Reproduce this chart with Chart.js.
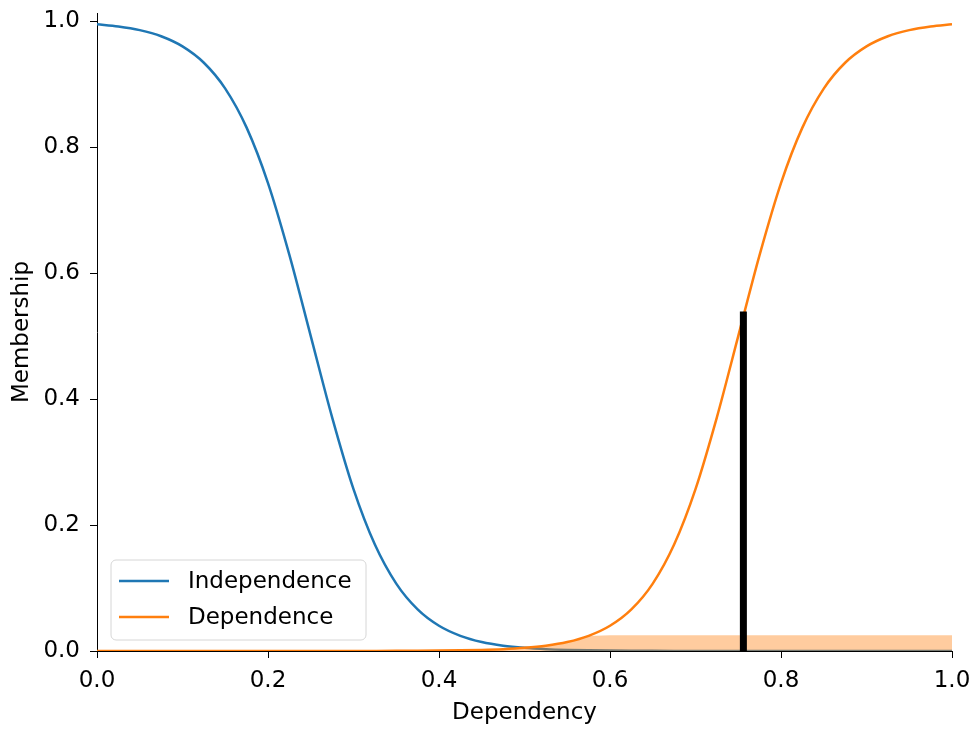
<!DOCTYPE html>
<html lang="en">
<head>
  <meta charset="UTF-8">
  <title>Dependency membership</title>
  <script src="https://cdn.jsdelivr.net/npm/chart.js"></script>
  <style>
    html, body { margin: 0; padding: 0; background: #fff; }
    #wrap { width: 973px; height: 729px; }
  </style>
</head>
<body>
  <div id="wrap"><canvas id="grafico" width="973" height="729"></canvas></div>

  <script>
    // universe of discourse
    const xs = [0, 0.025, 0.05, 0.075, 0.1, 0.125, 0.15, 0.175, 0.2, 0.225, 0.25, 0.275, 0.3, 0.325, 0.35,
      0.375, 0.4, 0.425, 0.45, 0.475, 0.5, 0.525, 0.55, 0.575, 0.6, 0.625, 0.65, 0.675, 0.7, 0.725,
      0.75, 0.775, 0.8, 0.825, 0.85, 0.875, 0.9, 0.925, 0.95, 0.975, 1.0];

    const independence = [0.995, 0.9916, 0.9858, 0.9761, 0.960, 0.934, 0.893, 0.831, 0.743, 0.629, 0.5,
      0.371, 0.257, 0.169, 0.107, 0.066, 0.040, 0.024, 0.0142, 0.0084, 0.0050, 0.0029, 0.0017, 0.0010,
      0.0006, 0.00035, 0.0002, 0.00012, 0.00007, 0.00004, 0, 0, 0, 0, 0, 0, 0, 0, 0, 0, 0];

    const dependence = [0, 0, 0, 0, 0, 0, 0, 0, 0, 0, 0, 0.00004, 0.00007, 0.00012, 0.0002, 0.00035,
      0.0006, 0.0010, 0.0017, 0.0029, 0.0050, 0.0084, 0.0142, 0.024, 0.040, 0.066, 0.107, 0.169, 0.257,
      0.371, 0.5, 0.629, 0.743, 0.831, 0.893, 0.934, 0.960, 0.9761, 0.9858, 0.9916, 0.995];

    // activation of the dependence set (clipped at 0.025)
    const activation = [0, 0, 0, 0, 0, 0, 0, 0, 0, 0, 0, 0.00004, 0.00007, 0.00012, 0.0002, 0.00035,
      0.0006, 0.0010, 0.0017, 0.0029, 0.0050, 0.0084, 0.0142, 0.024, 0.025, 0.025, 0.025, 0.025, 0.025,
      0.025, 0.025, 0.025, 0.025, 0.025, 0.025, 0.025, 0.025, 0.025, 0.025, 0.025, 0.025];

    // crisp output and its membership
    const resultX = 0.756;
    const resultY = 0.539;

    const yTicks = [0, 0.2, 0.4, 0.6, 0.8, 1.0];
    const seriesNames = ["Independence", "Dependence"];
    const FONT = "'DejaVu Sans', sans-serif";

    const pts = arr => xs.map((x, i) => ({ x: x, y: arr[i] }));

    // legend box drawn inside the plot, lower left
    const legendBox = {
      id: 'legendBox',
      afterDraw(chart) {
        const ctx = chart.ctx;
        const x0 = 111, y0 = 560, w = 255, h = 80, r = 5;
        ctx.save();
        ctx.beginPath();
        ctx.roundRect(x0, y0, w, h, r);
        ctx.fillStyle = 'rgba(255,255,255,0.8)';
        ctx.fill();
        ctx.strokeStyle = '#d6d6d6';
        ctx.lineWidth = 1;
        ctx.stroke();
        const colors = ['#1f77b4', '#ff7f0e'];
        const rows = [581, 617];
        ctx.font = "23px " + FONT;
        ctx.textBaseline = 'middle';
        ctx.textAlign = 'left';
        seriesNames.forEach((name, i) => {
          ctx.beginPath();
          ctx.moveTo(119, rows[i]);
          ctx.lineTo(169, rows[i]);
          ctx.strokeStyle = colors[i];
          ctx.lineWidth = 2.5;
          ctx.stroke();
          ctx.fillStyle = '#000';
          ctx.fillText(name, 188, rows[i] + 1);
        });
        ctx.restore();
      }
    };

    Chart.defaults.font.family = FONT;
    Chart.defaults.font.size = 23;
    Chart.defaults.color = '#000';

    new Chart(document.getElementById("grafico"), {
      type: 'line',
      data: {
        datasets: [
          {
            label: seriesNames[0],
            data: pts(independence),
            borderColor: '#1f77b4',
            borderWidth: 2.5,
            pointRadius: 0,
            cubicInterpolationMode: 'monotone',
            fill: false,
            order: 4
          },
          {
            label: seriesNames[1],
            data: pts(dependence),
            borderColor: '#ff7f0e',
            borderWidth: 2.5,
            pointRadius: 0,
            cubicInterpolationMode: 'monotone',
            fill: false,
            order: 3
          },
          {
            label: 'activation',
            data: pts(activation),
            borderWidth: 0,
            borderColor: 'rgba(0,0,0,0)',
            backgroundColor: 'rgba(255,127,14,0.4)',
            pointRadius: 0,
            fill: 'origin',
            order: 2
          },
          {
            label: 'result',
            data: [{ x: resultX, y: 0 }, { x: resultX, y: resultY }],
            borderColor: '#000',
            borderWidth: 7,
            borderCapStyle: 'butt',
            pointRadius: 0,
            fill: false,
            order: 1
          }
        ]
      },
      options: {
        responsive: false,
        animation: false,
        layout: { padding: { top: 13, right: 21, left: 0, bottom: 0 } },
        plugins: { legend: { display: false }, tooltip: { enabled: false } },
        scales: {
          x: {
            type: 'linear',
            min: 0,
            max: 1,
            afterFit: s => { s.height = 78; s.paddingLeft = 0; s.paddingRight = 0; },
            ticks: { stepSize: 0.2, padding: 9, callback: v => v.toFixed(1) },
            grid: { drawOnChartArea: false, drawTicks: true, tickLength: 7, tickColor: '#000', tickWidth: 1 },
            border: { display: true, color: '#000', width: 1 },
            title: { display: true, text: 'Dependency', padding: { top: 0, bottom: 2 } }
          },
          y: {
            type: 'linear',
            min: 0,
            max: 1.013,
            afterFit: s => { s.width = 97; s.paddingTop = 0; s.paddingBottom = 0; },
            afterBuildTicks: s => { s.ticks = yTicks.map(v => ({ value: v })); },
            ticks: { padding: 10, callback: v => v.toFixed(1) },
            grid: { drawOnChartArea: false, drawTicks: true, tickLength: 7, tickColor: '#000', tickWidth: 1 },
            border: { display: true, color: '#000', width: 1 },
            title: { display: true, text: 'Membership', padding: { top: 8, bottom: 0 } }
          }
        }
      },
      plugins: [legendBox]
    });
  </script>
</body>
</html>
